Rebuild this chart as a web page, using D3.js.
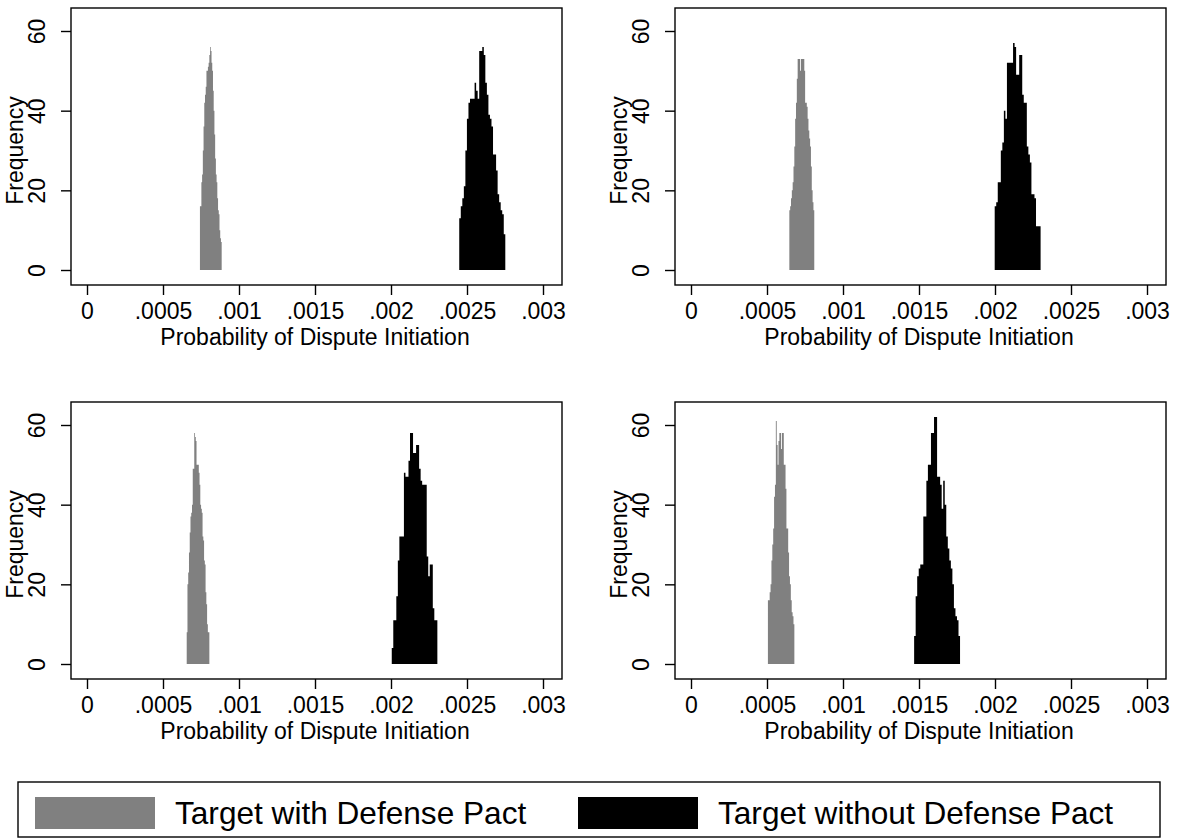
<!DOCTYPE html>
<html>
<head>
<meta charset="utf-8">
<script src="https://cdn.jsdelivr.net/npm/d3@7"></script>
<style>
  body { margin: 0; background: #fff; }
  text { font-family: "Liberation Sans", Arial, sans-serif; fill: #000; }
</style>
</head>
<body>
<div id="chart"></div>
<script>
// Tick values and labels
const xTicks = [0, 0.0005, 0.001, 0.0015, 0.002, 0.0025, 0.003];
const xTickLabels = ["0", ".0005", ".001", ".0015", ".002", ".0025", ".003"];
const yTicks = [0, 20, 40, 60];
const seriesNames = ["Target with Defense Pact", "Target without Defense Pact"];

// Histogram counts (30 bins each) and bin ranges
const withPact1 = [16, 16, 22, 24, 30, 36, 42, 44, 46, 50, 50, 51, 52, 54, 56, 55, 52, 50, 45, 40, 34, 28, 24, 22, 18, 15, 14, 10, 8, 7];
const withPactRange1 = [0.000743, 0.000886];
const withoutPact1 = [13, 16, 18, 21, 30, 38, 42, 43, 43, 43, 47, 45, 43, 55, 55, 56, 54, 47, 44, 39, 38, 36, 29, 29, 25, 19, 17, 15, 14, 9];
const withoutPactRange1 = [0.002449, 0.002752];

const withPact2 = [15, 16, 18, 20, 22, 26, 31, 38, 42, 48, 53, 53, 53, 50, 53, 53, 53, 53, 50, 42, 42, 41, 38, 35, 33, 31, 26, 20, 17, 15];
const withPactRange2 = [0.000647, 0.000811];
const withoutPact2 = [16, 17, 22, 22, 30, 32, 40, 38, 52, 52, 52, 52, 57, 56, 49, 49, 54, 54, 44, 42, 42, 31, 29, 27, 19, 19, 18, 11, 11, 11];
const withoutPactRange2 = [0.001998, 0.002300];

const withPact3 = [8, 20, 23, 28, 33, 37, 38, 40, 49, 49, 58, 57, 56, 50, 50, 50, 48, 45, 40, 39, 38, 32, 31, 26, 25, 18, 15, 10, 8, 8];
const withPactRange3 = [0.000656, 0.000805];
const withoutPact3 = [4, 11, 11, 17, 26, 32, 32, 32, 48, 47, 47, 51, 58, 58, 53, 53, 55, 55, 49, 46, 45, 45, 45, 27, 22, 25, 25, 14, 11, 11];
const withoutPactRange3 = [0.002005, 0.002305];

const withPact4 = [16, 16, 18, 20, 26, 30, 34, 42, 45, 61, 55, 50, 56, 58, 58, 54, 58, 58, 50, 50, 44, 34, 34, 28, 22, 20, 16, 13, 12, 10];
const withPactRange4 = [0.000506, 0.000680];
const withoutPact4 = [7, 17, 22, 24, 25, 25, 37, 37, 46, 50, 50, 58, 58, 62, 62, 47, 47, 45, 39, 46, 40, 32, 29, 26, 24, 20, 14, 12, 11, 7];
const withoutPactRange4 = [0.001468, 0.001770];

const panelData = [
  [[withPact1, withPactRange1], [withoutPact1, withoutPactRange1]],
  [[withPact2, withPactRange2], [withoutPact2, withoutPactRange2]],
  [[withPact3, withPactRange3], [withoutPact3, withoutPactRange3]],
  [[withPact4, withPactRange4], [withoutPact4, withoutPactRange4]]
];

const colors = ["#808080", "#000000"];

// Layout
const W = 1178, H = 839;
const boxW = 491, boxH = 277;
const panelPos = [[71, 8], [675, 8], [71, 402], [675, 402]];

const svg = d3.select("#chart")
  .append("svg")
    .attr("width", W)
    .attr("height", H);

panelPos.forEach(([left, top], p) => {
  const x = d3.scaleLinear().domain([0, 0.003]).range([left + 16, left + 16 + 456]);
  const y = d3.scaleLinear().domain([0, 60]).range([top + 262, top + 23]);

  const g = svg.append("g");

  // histograms as step areas
  const area = d3.area()
    .curve(d3.curveStepAfter)
    .x(d => x(d[0]))
    .y0(y(0))
    .y1(d => y(d[1]));

  panelData[p].forEach(([counts, range], s) => {
    const bw = (range[1] - range[0]) / counts.length;
    const pts = counts.map((c, i) => [range[0] + i * bw, c]);
    pts.push([range[1], counts[counts.length - 1]]);
    g.append("path")
      .datum(pts)
      .attr("d", area)
      .attr("fill", colors[s]);
  });

  // plot box
  g.append("rect")
    .attr("x", left).attr("y", top)
    .attr("width", boxW).attr("height", boxH)
    .attr("fill", "none")
    .attr("stroke", "#000")
    .attr("stroke-width", 1.4);

  // x axis
  const xa = g.append("g")
    .attr("transform", `translate(0,${top + boxH})`)
    .call(d3.axisBottom(x)
      .tickValues(xTicks)
      .tickFormat((d, i) => xTickLabels[i])
      .tickSize(10)
      .tickSizeOuter(0)
      .tickPadding(8));
  xa.select(".domain").remove();
  xa.selectAll("line").attr("stroke-width", 1.4);
  xa.selectAll("text").attr("font-size", 23).attr("font-family", "Liberation Sans, Arial, sans-serif");

  g.append("text")
    .attr("x", (x(0) + x(0.003)) / 2)
    .attr("y", top + boxH + 60)
    .attr("text-anchor", "middle")
    .attr("font-size", 23)
    .text("Probability of Dispute Initiation");

  // y axis
  const ya = g.append("g")
    .attr("transform", `translate(${left},0)`)
    .call(d3.axisLeft(y)
      .tickValues(yTicks)
      .tickSize(10)
      .tickSizeOuter(0));
  ya.select(".domain").remove();
  ya.selectAll("line").attr("stroke-width", 1.4);
  ya.selectAll("text")
    .attr("x", null)
    .attr("dy", "0.35em")
    .attr("text-anchor", "middle")
    .attr("transform", "translate(-34,0) rotate(-90)")
    .attr("font-size", 23)
    .attr("font-family", "Liberation Sans, Arial, sans-serif");

  g.append("text")
    .attr("transform", `translate(${left - 56},${(y(0) + y(60)) / 2}) rotate(-90)`)
    .attr("dy", "0.35em")
    .attr("text-anchor", "middle")
    .attr("font-size", 23)
    .text("Frequency");
});

// legend
const legend = svg.append("g");
legend.append("rect")
  .attr("x", 18).attr("y", 782)
  .attr("width", 1142).attr("height", 55)
  .attr("fill", "none")
  .attr("stroke", "#000")
  .attr("stroke-width", 1.4);

const legendX = [35, 578];
seriesNames.forEach((name, i) => {
  legend.append("rect")
    .attr("x", legendX[i]).attr("y", 797)
    .attr("width", 120).attr("height", 32)
    .attr("fill", colors[i]);
  legend.append("text")
    .attr("x", legendX[i] + 140)
    .attr("y", 813)
    .attr("dy", "0.35em")
    .attr("font-size", 31.6)
    .text(name);
});
</script>
</body>
</html>
